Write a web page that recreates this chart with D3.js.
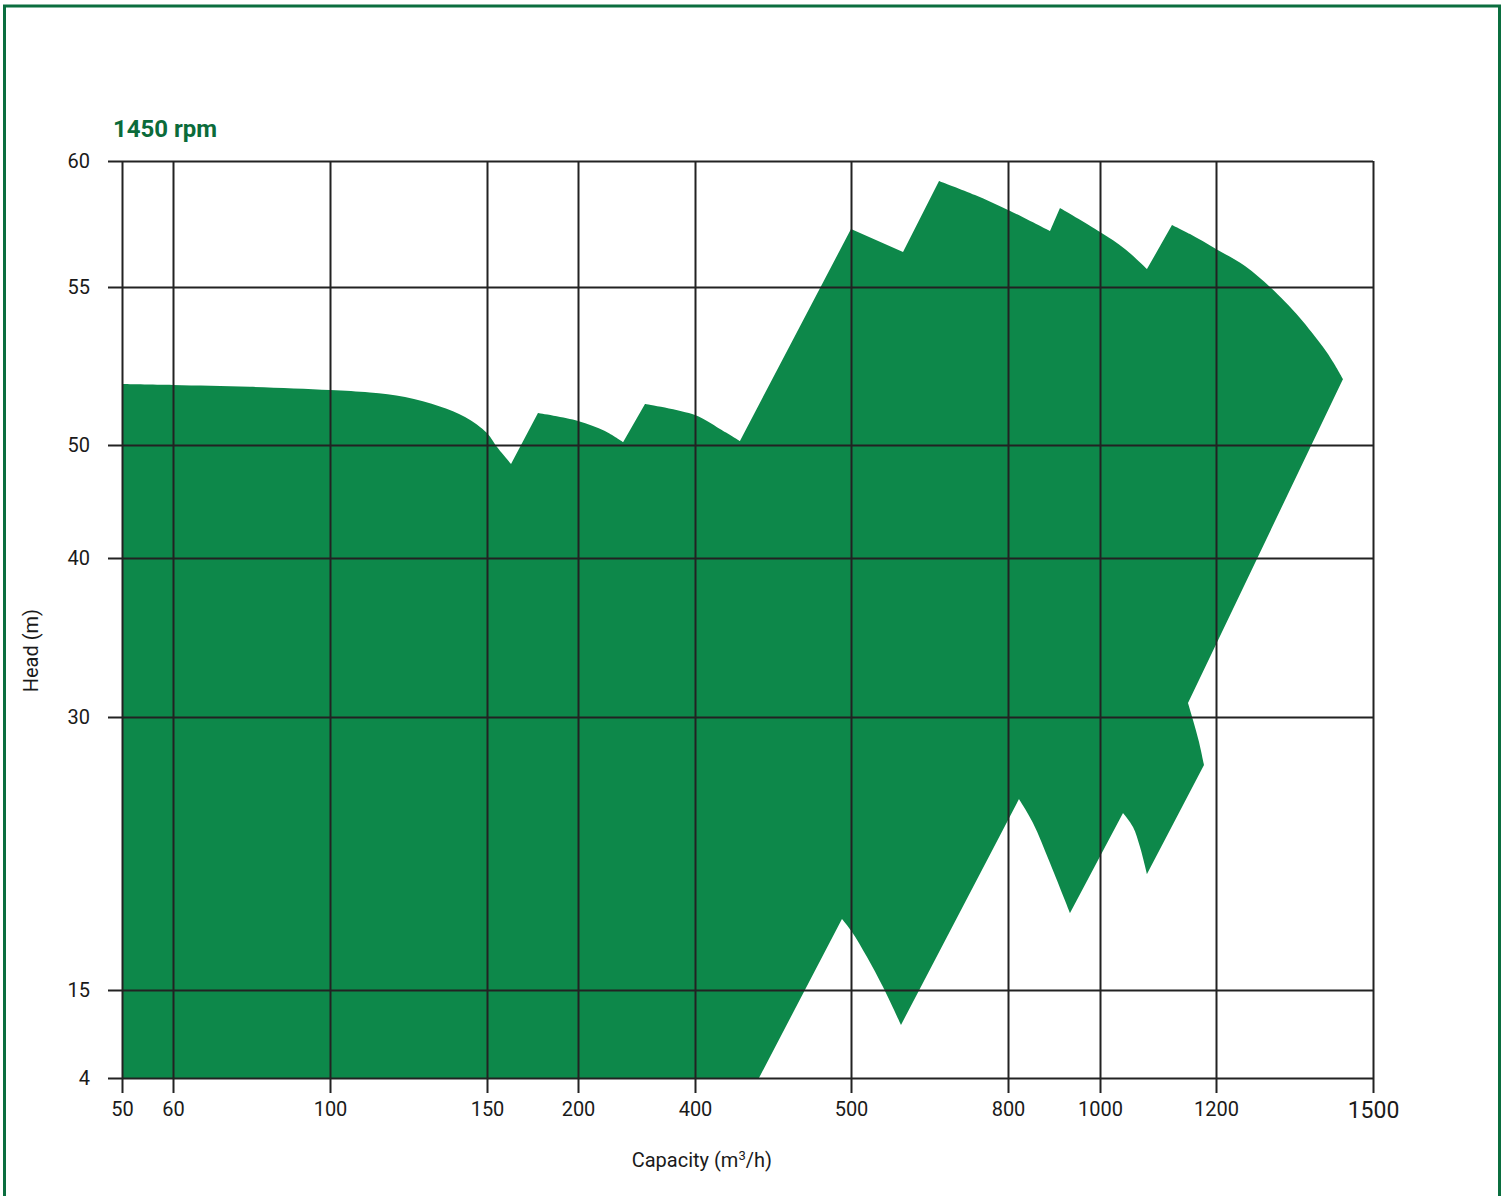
<!DOCTYPE html>
<html>
<head>
<meta charset="utf-8">
<script src="https://cdn.jsdelivr.net/npm/d3@7"></script>
<style>
  html, body { margin: 0; padding: 0; background: #fff; }
  svg { display: block; }
  text { font-family: Roboto, "Noto Sans", sans-serif; fill: #1a1a1a; }
</style>
</head>
<body>
<svg id="chart" width="1507" height="1196"></svg>
<script>
// ---------- data ----------
const title = "1450 rpm";
const xTickValues = [50, 60, 100, 150, 200, 400, 500, 800, 1000, 1200, 1500];
const yTickValues = [4, 15, 30, 40, 50, 55, 60];
const xLabel = "Capacity (m³/h)";
const yLabel = "Head (m)";

// Operating envelope outline: capacity (m3/h)
const envelopeCapacity = [
  50, 60, 79.6, 100, 112.7, 123.9, 135, 143, 150, 155.5, 163.2,
  178, 200, 246, 277,
  314.5, 400, 416, 428.8,
  500, 599.4,
  668.2, 737, 800, 891.3,
  913, 1000, 1043, 1081,
  1124.1, 1155.2, 1200, 1255.4, 1303.2, 1331.9, 1360.5, 1404.5, 1423.6, 1442.7,
  1151.7, 1160.3, 1170.7, 1179.3,
  1081, 1069, 1056.9, 1039.7,
  934.8, 891.3, 854.3, 823.9,
  595.5, 561.2, 530.6, 501.9, 494.2,
  441, 50
];
// Operating envelope outline: head (m)
const envelopeHead = [
  51.93, 51.9, 51.84, 51.74, 51.66, 51.52, 51.22, 50.89, 50.38, 49.82, 48.32,
  51.01, 50.76, 50.44, 50.09,
  51.3, 50.95, 50.51, 50.13,
  57.3, 56.39,
  59.21, 58.65, 58.06, 57.22,
  58.13, 57.18, 56.51, 55.71,
  57.46, 57.1, 56.51, 55.83, 55.0, 54.53, 54.02, 53.1, 52.63, 52.09,
  30.88, 29.84, 28.63, 27.36,
  21.37, 22.86, 23.96, 24.73,
  19.23, 21.98, 24.18, 25.49,
  10.63, 15.16, 16.81, 18.19, 18.9,
  4, 4
];
// indices of sharp corners in the outline (curves are smooth between them)
const cornerIndex = [0, 10, 11, 14, 15, 18, 19, 20, 21, 24, 25, 28, 29, 38, 39, 42, 43, 46, 47, 50, 51, 55, 56, 57];

// ---------- layout ----------
const margin = { left: 122, top: 161, right: 134, bottom: 118 };
const W = 1507, H = 1196;
const plotW = W - margin.left - margin.right;   // 1251
const plotH = H - margin.top - margin.bottom;   // 917
// relative tick placement of the (non-uniform) printed grid
const xTickFrac = [0, 51, 208, 365, 456, 573, 729, 886, 978, 1094, 1251].map(v => v / 1251);
const yTickFrac = [917, 829, 556, 397, 284, 126, 0].map(v => v / 917);

const fillColor = "#0d884a";
const titleColor = "#0b6b3a";
const frameColor = "#0b6e3f";
const gridColor = "#222";

const svg = d3.select("#chart");

// outer frame
svg.append("path")
  .attr("d", `M4.5,${H + 5} V6 H1499.5 V${H + 5}`)
  .attr("fill", "none")
  .attr("stroke", frameColor)
  .attr("stroke-width", 3);

const g = svg.append("g").attr("transform", `translate(${margin.left},${margin.top})`);

const x = d3.scaleLinear()
  .domain(xTickValues)
  .range(xTickFrac.map(f => f * plotW));
const y = d3.scaleLinear()
  .domain(yTickValues)
  .range(yTickFrac.map(f => f * plotH));

// envelope area: smooth runs between sharp corners
const pts = envelopeCapacity.map((c, i) => [c, envelopeHead[i]]);
const smooth = d3.line().x(d => x(d[0])).y(d => y(d[1])).curve(d3.curveCatmullRom.alpha(0.5));
let d = "";
for (let k = 0; k < cornerIndex.length - 1; k++) {
  const run = pts.slice(cornerIndex[k], cornerIndex[k + 1] + 1);
  let s = smooth(run);
  if (k > 0) s = s.replace(/^M[^A-Za-z]*/, "");
  d += s;
}
d += "Z";
g.append("path").attr("d", d).attr("fill", fillColor);

// y grid + labels
const yAxis = g.append("g")
  .attr("transform", "translate(-14,0)")
  .call(d3.axisLeft(y).tickValues(yTickValues).tickFormat(d3.format("d"))
    .tickSize(-(plotW + 14)).tickPadding(18));
yAxis.select(".domain").remove();
yAxis.selectAll(".tick line").attr("stroke", gridColor).attr("stroke-width", 2);
yAxis.selectAll(".tick text").attr("font-size", 20).attr("fill", "#1a1a1a")
  .style("font-family", "Roboto, sans-serif");

// x grid + labels
const xAxis = g.append("g")
  .attr("transform", `translate(0,${plotH + 15})`)
  .call(d3.axisBottom(x).tickValues(xTickValues).tickFormat(d3.format("d"))
    .tickSize(-(plotH + 15)).tickPadding(9));
xAxis.select(".domain").remove();
xAxis.selectAll(".tick line").attr("stroke", gridColor).attr("stroke-width", 2);
xAxis.selectAll(".tick text")
  .attr("font-size", d => d === 1500 ? 23 : 20)
  .attr("fill", "#1a1a1a")
  .style("font-family", "Roboto, sans-serif");

// title
svg.append("text")
  .attr("x", 113).attr("y", 137)
  .attr("font-size", 24).attr("font-weight", 700)
  .style("fill", titleColor)
  .text(title);

// axis titles
svg.append("text")
  .attr("x", margin.left + plotW * 0.4635)
  .attr("y", 1167)
  .attr("text-anchor", "middle")
  .attr("font-size", 20)
  .html('Capacity (m<tspan baseline-shift="super" font-size="13">3</tspan>/h)');

svg.append("text")
  .attr("transform", `translate(38,${margin.top + plotH * 0.534}) rotate(-90)`)
  .attr("text-anchor", "middle")
  .attr("font-size", 20)
  .text(yLabel);
</script>
</body>
</html>
